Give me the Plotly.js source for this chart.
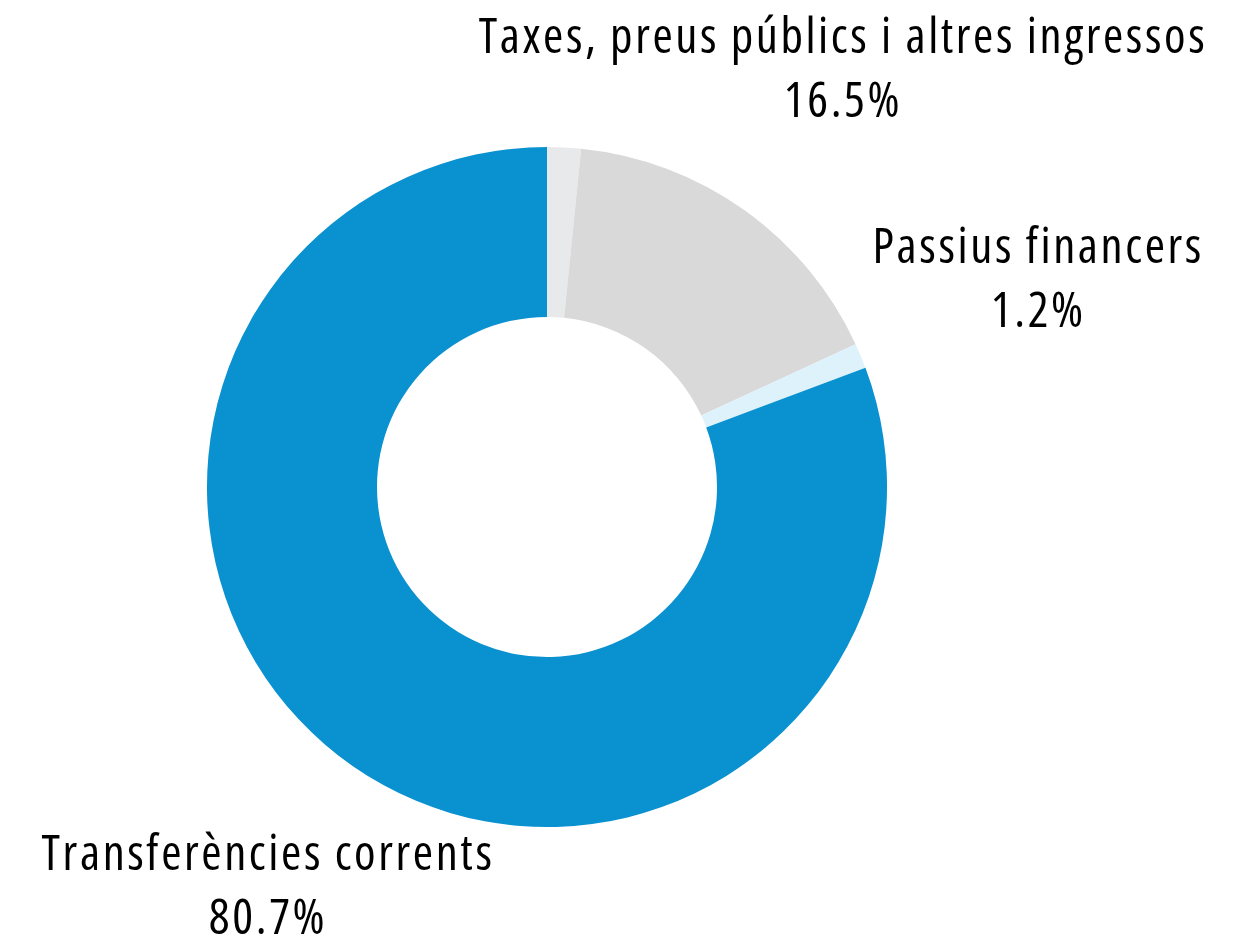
<!DOCTYPE html>
<html>
<head>
<meta charset="utf-8">
<script src="https://cdn.plot.ly/plotly-3.0.1.min.js"></script>
<style>
html,body{margin:0;padding:0;background:#fff;}
#chart{width:1249px;height:938px;}
#chart .annotation-text{font-stretch:condensed !important;letter-spacing:2.6px;}
</style>
</head>
<body>
<div id="chart"></div>
<script>
const categories = ["Altres", "Taxes, preus públics i altres ingressos", "Passius financers", "Transferències corrents"];
const values = [1.6, 16.5, 1.2, 80.7];
const colors = ["#e8e9eb", "#d9d9d9", "#def2fc", "#0a91d0"];
const showLabel = [false, true, true, true];
const labelPos = [null, [0.675, 0.930], [0.831, 0.7055], [0.2148, 0.059]];

const total = values.reduce((a, b) => a + b, 0);
const annotations = [];
categories.forEach((c, i) => {
  if (!showLabel[i]) return;
  annotations.push({
    xref: 'paper', yref: 'paper',
    x: labelPos[i][0], y: labelPos[i][1],
    xanchor: 'center', yanchor: 'middle',
    showarrow: false,
    align: 'center',
    text: c + '<br>' + (values[i] / total * 100).toFixed(1) + '%',
    font: {family: '"Open Sans", sans-serif', size: 49, color: '#000'}
  });
});

const data = [{
  type: 'pie',
  labels: categories,
  values: values,
  hole: 0.5,
  sort: false,
  direction: 'clockwise',
  rotation: 0,
  textinfo: 'none',
  marker: {colors: colors, line: {width: 0}},
  domain: {x: [0.1657, 0.7102], y: [0.1183, 0.8433]},
  hoverinfo: 'label+percent'
}];

const layout = {
  width: 1249, height: 938,
  margin: {l: 0, r: 0, t: 0, b: 0},
  showlegend: false,
  paper_bgcolor: '#fff',
  annotations: annotations
};

Plotly.newPlot('chart', data, layout, {displayModeBar: false, staticPlot: true});
</script>
</body>
</html>
